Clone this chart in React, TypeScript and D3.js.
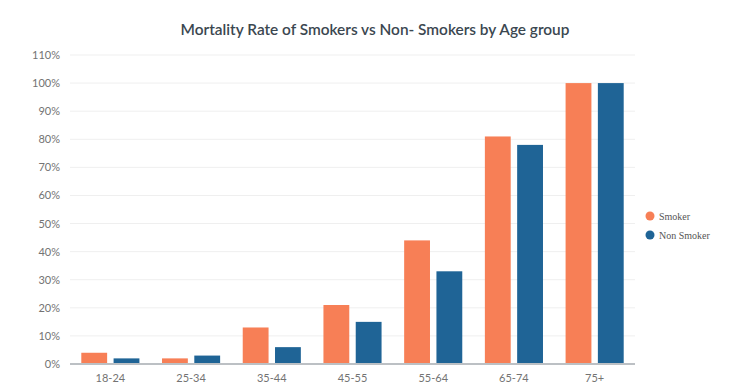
import { scaleBand, scaleLinear, range } from "d3";

const ageGroups = ["18-24", "25-34", "35-44", "45-55", "55-64", "65-74", "75+"];
const smokerRates = [4, 2, 13, 21, 44, 81, 100];
const nonSmokerRates = [2, 3, 6, 15, 33, 78, 100];
const seriesNames = ["Smoker", "Non Smoker"];
const seriesColors = ["#f77f56", "#1f6496"];

export default function App() {
  const width = 749;
  const height = 392;
  const left = 70;
  const right = 635;
  const top = 55;
  const bottom = 364;

  const x = scaleBand<string>().domain(ageGroups).range([left, right]).paddingInner(0.28).paddingOuter(0.14);
  const inner = scaleBand<string>().domain(seriesNames).range([0, x.bandwidth()]).paddingInner(0.2);
  const y = scaleLinear().domain([0, 110]).range([bottom, top]);
  const ticks = range(0, 111, 10);
  const series = [smokerRates, nonSmokerRates];

  return (
    <svg
      width={width}
      height={height}
      style={{ position: "absolute", left: 0, top: 0, background: "#fff" }}
      fontFamily="Lato, 'Noto Sans', sans-serif"
    >
      <text x={375} y={35} textAnchor="middle" fontSize="15.4" fill="#3b4750" fontWeight="600" fontFamily="Lato, sans-serif">
        Mortality Rate of Smokers vs Non- Smokers by Age group
      </text>

      {ticks.map((t) => (
        <g key={t}>
          {t > 0 ? <line x1={left} x2={right} y1={y(t)} y2={y(t)} stroke="#efefef" /> : null}
          <text x={60} y={y(t) + 4} textAnchor="end" fontSize="11" fill="#737373">
            {t}%
          </text>
        </g>
      ))}

      {ageGroups.map((g, i) => (
        <g key={g}>
          {series.map((vals, s) => (
            <rect
              key={s}
              x={(x(g) ?? 0) + (inner(seriesNames[s]) ?? 0)}
              y={y(vals[i])}
              width={inner.bandwidth()}
              height={bottom - y(vals[i])}
              fill={seriesColors[s]}
            />
          ))}
          <text x={(x(g) ?? 0) + x.bandwidth() / 2} y={382} textAnchor="middle" fontSize="11" fill="#737373">
            {g}
          </text>
        </g>
      ))}

      <line x1={left} x2={right} y1={bottom} y2={bottom} stroke="#bcc0c4" strokeWidth="2" />

      {seriesNames.map((name, s) => (
        <g key={name} transform={`translate(650, ${216 + s * 19})`}>
          <circle cx={0} cy={0} r={4.5} fill={seriesColors[s]} />
          <text x={9} y={3.5} fontSize="10" fill="#555" fontFamily="'Liberation Serif', 'DejaVu Serif', serif">
            {name}
          </text>
        </g>
      ))}
    </svg>
  );
}
